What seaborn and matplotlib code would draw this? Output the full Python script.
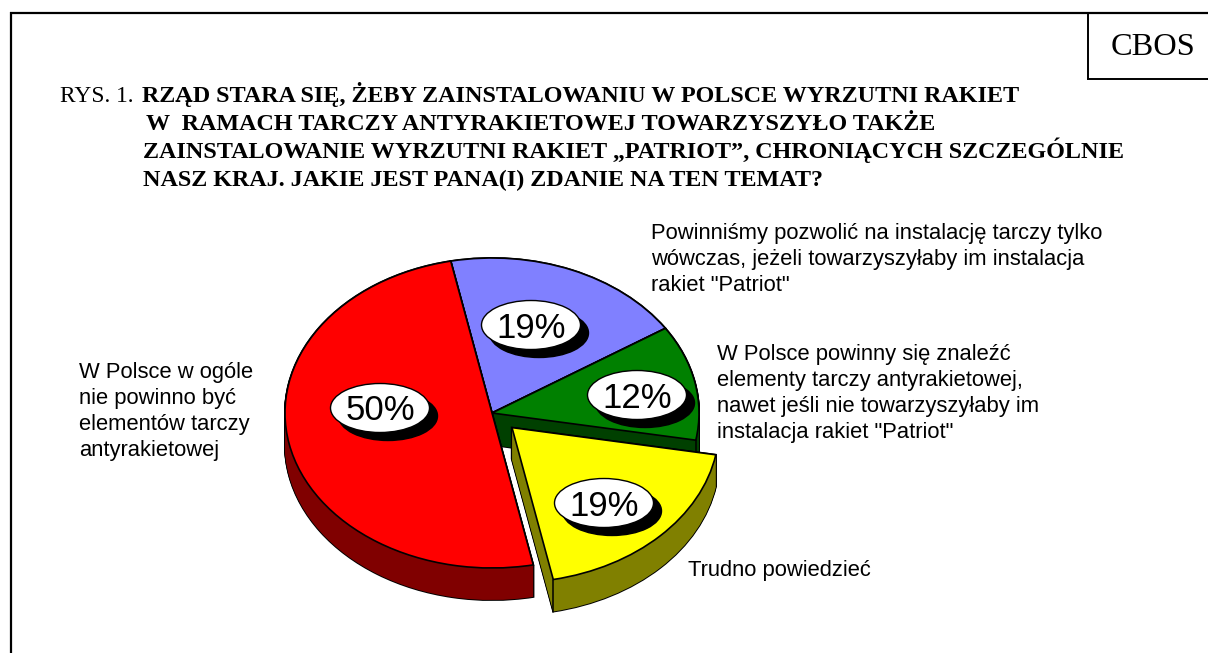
import numpy as np
import matplotlib
matplotlib.use("Agg")
import matplotlib.pyplot as plt
from matplotlib.patches import Ellipse
import seaborn as sns

categories = ['Powinniśmy pozwolić', 'W Polsce powinny', 'Trudno powiedzieć', 'W Polsce w ogóle']
values = [19, 12, 19, 50]
explode = [0, 0, 0.135, 0]
top_colors = sns.color_palette(['#8080FF', '#008000', '#FFFF00', '#FF0000'])
side_colors = sns.color_palette(['#404080', '#004000', '#808000', '#800000'])
title_lines = [
    'RZĄD STARA SIĘ, ŻEBY ZAINSTALOWANIU W POLSCE WYRZUTNI RAKIET',
    'W  RAMACH TARCZY ANTYRAKIETOWEJ TOWARZYSZYŁO TAKŻE',
    'ZAINSTALOWANIE WYRZUTNI RAKIET „PATRIOT”, CHRONIĄCYCH SZCZEGÓLNIE',
    'NASZ KRAJ. JAKIE JEST PANA(I) ZDANIE NA TEN TEMAT?',
]
label_blue = ['Powinniśmy pozwolić na instalację tarczy tylko',
              'wówczas, jeżeli towarzyszyłaby im instalacja', 'rakiet "Patriot"']
label_green = ['W Polsce powinny się znaleźć', 'elementy tarczy antyrakietowej,',
               'nawet jeśli nie towarzyszyłaby im', 'instalacja rakiet "Patriot"']
label_yellow = ['Trudno powiedzieć']
label_red = ['W Polsce w ogóle', 'nie powinno być', 'elementów tarczy', 'antyrakietowej']

BLACK = '#000000'
sns.set_theme(style='white')
W, H = 1208, 653
fig = plt.figure(figsize=(W / 100, H / 100), dpi=100, facecolor='white')

# pie axes: a squashed unit circle, centre (492, 413) px, radii 208 x 155 px
cx, cy, rx, ry, depth = 492, 413, 207, 155, 32
ext = 1.6
pie_ax = fig.add_axes([(cx - ext * rx) / W, 1 - (cy + ext * ry) / H, 2 * ext * rx / W, 2 * ext * ry / H])
pie_kw = dict(x=values, explode=explode, startangle=101.5, counterclock=False, radius=1.0, frame=False)
slice_rank = [0, 1, 3, 2]  # blue, green, red, yellow on top

dz = depth / ry
layers = np.linspace(dz, 0, depth + 1)
for k, z in enumerate(layers):
    is_top = k == len(layers) - 1
    outline, _ = pie_ax.pie(center=(0, -z), colors=[BLACK] * 4,
                            wedgeprops=dict(edgecolor=BLACK, linewidth=1.4), **pie_kw)
    fill, _ = pie_ax.pie(center=(0, -z), colors=top_colors if is_top else side_colors,
                         wedgeprops=dict(linewidth=0), **pie_kw)
    for i in range(4):
        outline[i].set_zorder(10 * slice_rank[i] + 1)
        fill[i].set_zorder(10 * slice_rank[i] + 2 + (1 if is_top else 0))
        if is_top:
            fill[i].set_edgecolor(BLACK)
            fill[i].set_linewidth(1.2)
            if i in (1, 2):  # front corner where the wall turns
                t = np.radians(fill[i].theta1)
                x0 = fill[i].center[0] + np.cos(t)
                y0 = fill[i].center[1] + np.sin(t)
                pie_ax.plot([x0, x0], [y0, y0 - dz], color=BLACK, lw=1.1,
                            zorder=10 * slice_rank[i] + 4)
pie_ax.set_aspect('auto')
pie_ax.set_xlim(-ext, ext)
pie_ax.set_ylim(-ext, ext)
pie_ax.patch.set_alpha(0)
pie_ax.axis('off')

# overlay in pixel coordinates
ax = fig.add_axes([0, 0, 1, 1], zorder=5)
ax.set_xlim(0, W)
ax.set_ylim(H, 0)
ax.axis('off')
ax.patch.set_alpha(0)

ax.plot([10.5, 10.5], [12, H], color=BLACK, lw=1.6, solid_capstyle='butt')
ax.plot([10, W], [13, 13], color=BLACK, lw=1.6, solid_capstyle='butt')
ax.plot([1088, 1088], [13, 79], color=BLACK, lw=1.4, solid_capstyle='butt')
ax.plot([1087, W], [79, 79], color=BLACK, lw=1.4, solid_capstyle='butt')

serif = 'Liberation Serif'
sans = 'Liberation Sans'
ax.text(1153.5, 55, 'CBOS', family=serif, fontsize=23.3, ha='center', va='baseline', color=BLACK)
ax.text(60, 102, 'RYS. 1.', family=serif, fontsize=16.8, ha='left', va='baseline', color=BLACK)
for (x, y), line in zip([(142, 102), (146, 130), (143, 158), (143, 186)], title_lines):
    ax.text(x, y, line, family=serif, fontsize=17.4, fontweight='bold', ha='left', va='baseline', color=BLACK)

for x, y0, lines in [(651, 239, label_blue), (717, 360, label_green),
                     (688, 576, label_yellow), (79, 378, label_red)]:
    for j, line in enumerate(lines):
        ax.text(x, y0 + j * 26, line, family=sans, fontsize=15.8, ha='left', va='baseline', color=BLACK)

# percentage badges
for v, (x, y) in zip(values, [(531, 325), (637, 395), (604, 503), (380, 408)]):
    ax.add_patch(Ellipse((x + 8, y + 8), 99, 49, facecolor=BLACK, edgecolor=BLACK, lw=1))
    ax.add_patch(Ellipse((x, y), 99, 49, facecolor='#FFFFFF', edgecolor=BLACK, lw=1))
    ax.text(x, y + 12.5, f'{v}%', family=sans, fontsize=25, ha='center', va='baseline', color=BLACK)

fig.savefig('out.png', dpi=100)
